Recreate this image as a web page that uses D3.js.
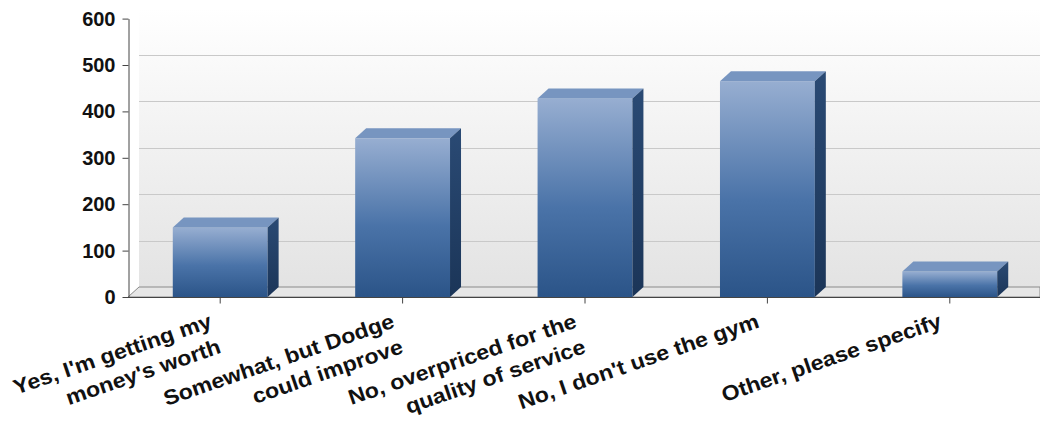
<!DOCTYPE html>
<html>
<head>
<meta charset="utf-8">
<script src="https://cdn.jsdelivr.net/npm/d3@7"></script>
<style>
  body { margin: 0; background: #fff; }
  svg { display: block; }
  text { font-family: "Liberation Sans", Arial, sans-serif; font-weight: bold; fill: #111; }
</style>
</head>
<body>
<svg width="1040" height="421"></svg>
<script>
// the answers and how many people picked each one
var answers = ["Yes, I'm getting my|money's worth", "Somewhat, but Dodge|could improve",
  "No, overpriced for the|quality of service", "No, I don't use the gym", "Other, please specify"];
var counts = [150, 342, 428, 465, 55];
var yTicks = [0, 100, 200, 300, 400, 500, 600];

var svg = d3.select("svg"),
    plotLeft = 129, plotRight = 1041, plotBottom = 297, plotTop = 18.6,
    dx = 11, dy = 10; // depth of the fake 3d

var x = d3.scaleBand()
    .domain(d3.range(answers.length))
    .range([plotLeft, plotRight])
    .paddingInner(0.48)
    .paddingOuter(0.24);

var y = d3.scaleLinear()
    .domain([0, 600])
    .range([plotBottom, plotTop]);

var defs = svg.append("defs");

// back wall gradient (white at top, grey at floor)
var wall = defs.append("linearGradient").attr("id", "wall")
    .attr("x1", 0).attr("y1", 0).attr("x2", 0).attr("y2", 1);
wall.append("stop").attr("offset", "0%").attr("stop-color", "#ffffff");
wall.append("stop").attr("offset", "100%").attr("stop-color", "#e3e3e3");

// bar front: light blue at top, darker at bottom
var front = defs.append("linearGradient").attr("id", "front")
    .attr("x1", 0).attr("y1", 0).attr("x2", 0).attr("y2", 1);
front.append("stop").attr("offset", "0%").attr("stop-color", "#97aed1");
front.append("stop").attr("offset", "55%").attr("stop-color", "#4a73a8");
front.append("stop").attr("offset", "100%").attr("stop-color", "#2b5488");

var side = defs.append("linearGradient").attr("id", "side")
    .attr("x1", 0).attr("y1", 0).attr("x2", 0).attr("y2", 1);
side.append("stop").attr("offset", "0%").attr("stop-color", "#2a4a74");
side.append("stop").attr("offset", "100%").attr("stop-color", "#1b3558");

// back wall
svg.append("rect")
    .attr("x", plotLeft + dx - 1)
    .attr("y", y(600) - dy)
    .attr("width", plotRight - plotLeft)
    .attr("height", y(0) - y(600))
    .attr("fill", "url(#wall)");

// floor
svg.append("path")
    .attr("d", "M" + (plotLeft - 1) + "," + y(0) + "L" + (plotLeft - 1 + dx) + "," + (y(0) - dy) +
      "L" + 1040 + "," + (y(0) - dy) + "L1040," + y(0) + "Z")
    .attr("fill", "#e6e6e6")
    .attr("stroke", "#8a8a8a")
    .attr("stroke-width", 1);

// grid lines on the back wall
svg.append("g").selectAll("line")
  .data(yTicks.filter(function(d) { return d > 0 && d < 600; }))
  .enter().append("line")
    .attr("x1", plotLeft + dx - 1)
    .attr("x2", 1040)
    .attr("y1", function(d) { return Math.round(y(d) - dy) + 0.5; })
    .attr("y2", function(d) { return Math.round(y(d) - dy) + 0.5; })
    .attr("stroke", "#c9c9c9");

// bars
var bars = svg.append("g").selectAll("g")
  .data(counts)
  .enter().append("g");

bars.append("rect")
    .attr("x", function(d, i) { return x(i); })
    .attr("y", function(d) { return y(d); })
    .attr("width", x.bandwidth())
    .attr("height", function(d) { return y(0) - y(d); })
    .attr("fill", "url(#front)");

bars.append("path")
    .attr("d", function(d, i) {
      var x0 = x(i), x1 = x(i) + x.bandwidth(), t = y(d);
      return "M" + x0 + "," + t + "L" + (x0 + dx) + "," + (t - dy) +
        "L" + (x1 + dx) + "," + (t - dy) + "L" + x1 + "," + t + "Z";
    })
    .attr("fill", "#7795c0");

bars.append("path")
    .attr("d", function(d, i) {
      var x1 = x(i) + x.bandwidth(), t = y(d);
      return "M" + x1 + "," + t + "L" + (x1 + dx) + "," + (t - dy) +
        "L" + (x1 + dx) + "," + (y(0) - dy) + "L" + x1 + "," + y(0) + "Z";
    })
    .attr("fill", "url(#side)");

// y axis
var yAxis = svg.append("g")
    .attr("transform", "translate(" + (plotLeft - 0.5) + ",0)")
    .call(d3.axisLeft(y).tickValues(yTicks).tickSize(6).tickPadding(7).tickSizeOuter(0));
yAxis.select(".domain").attr("stroke", "#444");
yAxis.selectAll(".tick line").attr("stroke", "#444");
yAxis.selectAll("text").style("font-size", "20px").attr("fill", "#111");

// x axis line and tick marks
var xAxis = svg.append("g")
    .attr("transform", "translate(0," + (plotBottom + 0.5) + ")")
    .call(d3.axisBottom(x).tickSize(6).tickSizeOuter(0).tickFormat(""));
xAxis.select(".domain").attr("stroke", "#444").attr("d", "M" + (plotLeft - 6) + ",0H1040");
xAxis.selectAll(".tick").attr("transform", function(d) {
  return "translate(" + (x(d) + x.bandwidth() / 2) + ",0)";
});
xAxis.selectAll(".tick line").attr("stroke", "#444");

// slanted category labels (a bit stretched along the slant like the original)
var labels = svg.append("g").selectAll("text")
  .data(answers)
  .enter().append("text")
    .attr("transform", function(d, i) {
      return "translate(" + (x(i) + x.bandwidth() / 2 - 7) + ",327) rotate(-19) scale(1.1,1)";
    })
    .attr("text-anchor", "end")
    .style("font-size", "21px");

labels.selectAll("tspan")
  .data(function(d) { return d.split("|"); })
  .enter().append("tspan")
    .attr("x", 0)
    .attr("dy", function(d, i) { return i ? 27 : 0; })
    .text(function(d) { return d; });
</script>
</body>
</html>
